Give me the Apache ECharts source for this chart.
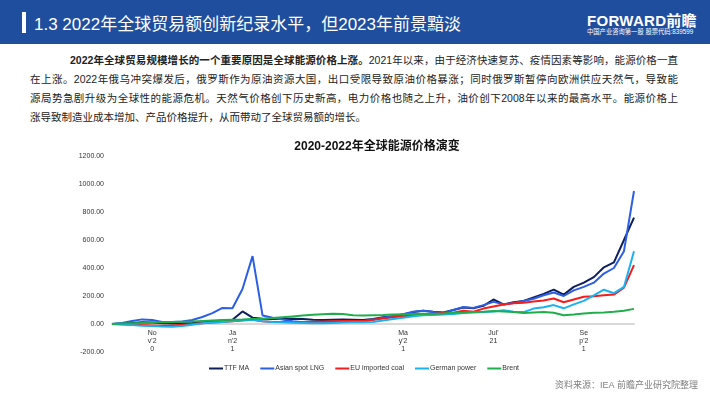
<!DOCTYPE html>
<html><head><meta charset="utf-8">
<script src="https://cdn.jsdelivr.net/npm/echarts@6/dist/echarts.min.js"></script>
<style>
html,body{margin:0;padding:0;width:710px;height:399px;overflow:hidden;background:#fff;font-family:"Liberation Sans","Noto Sans CJK SC",sans-serif;}
.abs{position:absolute;white-space:nowrap;}
.ln{position:absolute;font-size:10.5px;color:#222;text-align:justify;text-align-last:justify;white-space:nowrap;line-height:14px;}
</style></head>
<body>
<div class="abs" style="left:0;top:0;width:710px;height:44px;background:#1f4e9e"></div>
<div class="abs" style="left:22px;top:12px;width:4px;height:21px;background:#fff"></div>
<div class="abs" style="left:34px;top:10px;font-size:17px;color:#fff;font-family:'Liberation Sans','Noto Sans CJK SC';">1.3 2022年全球贸易额创新纪录水平，但2023年前景黯淡</div>
<div class="abs" style="left:587px;top:9px;font-size:15px;font-weight:bold;color:#fff;letter-spacing:0.3px">FORWARD前瞻</div>
<div class="abs" style="left:587px;top:27px;font-size:6.3px;color:#fff">中国产业咨询第一股 股票代码:839599</div>
<div class="ln" style="left:70px;top:53px;width:608px"><b>2022年全球贸易规模增长的一个重要原因是全球能源价格上涨。</b>2021年以来，由于经济快速复苏、疫情因素等影响，能源价格一直</div>
<div class="ln" style="left:30px;top:72px;width:648px">在上涨。2022年俄乌冲突爆发后，俄罗斯作为原油资源大国，出口受限导致原油价格暴涨；同时俄罗斯暂停向欧洲供应天然气，导致能</div>
<div class="ln" style="left:30px;top:91px;width:648px">源局势急剧升级为全球性的能源危机。天然气价格创下历史新高，电力价格也随之上升，油价创下2008年以来的最高水平。能源价格上</div>
<div class="ln" style="left:30px;top:110px;text-align-last:left">涨导致制造业成本增加、产品价格提升，从而带动了全球贸易额的增长。</div>
<div id="chart" style="position:absolute;left:0;top:0;width:710px;height:399px"></div>
<script>
var categories = ["2020-10-08","2020-10-15","2020-10-22","2020-10-29","2020-11-05","2020-11-12","2020-11-19","2020-11-26","2020-12-03","2020-12-10","2020-12-17","2020-12-24","2020-12-31","2021-01-07","2021-01-14","2021-01-21","2021-01-28","2021-02-04","2021-02-11","2021-02-18","2021-02-25","2021-03-04","2021-03-11","2021-03-18","2021-03-25","2021-04-01","2021-04-08","2021-04-15","2021-04-22","2021-04-29","2021-05-06","2021-05-13","2021-05-20","2021-05-27","2021-06-03","2021-06-10","2021-06-17","2021-06-24","2021-07-01","2021-07-08","2021-07-15","2021-07-22","2021-07-29","2021-08-05","2021-08-12","2021-08-19","2021-08-26","2021-09-02","2021-09-09","2021-09-16","2021-09-23","2021-09-30","2021-10-07"];
var tickIndex = [4, 12, 29, 38, 47];
var tickLabels = ["No\nv'2\n0", "Ja\nn'2\n1", "Ma\ny'2\n1", "Jul'\n21", "Se\np'2\n1"];
var ttfMA = [0,3,8,12,10,5,3,5,8,12,18,25,30,90,45,38,35,36,38,35,30,28,30,32,30,28,35,48,55,68,85,95,88,82,100,118,112,130,175,140,155,165,190,215,245,210,265,295,335,405,440,600,760];
var asianLNG = [0,8,22,33,28,15,14,18,28,50,78,115,112,250,485,60,45,32,20,12,10,12,15,18,20,20,30,45,55,70,88,95,85,78,100,122,115,135,158,140,150,165,180,205,225,200,240,265,295,360,400,520,950];
var euCoal = [0,-2,-5,-8,-10,-12,-10,-5,0,5,10,15,20,25,30,20,15,15,12,12,15,18,20,22,22,22,30,40,48,55,62,68,72,78,80,95,88,110,125,140,148,152,160,168,182,155,175,195,198,205,210,260,420];
var germanPower = [0,-3,-8,-12,-15,-18,-20,-15,-5,5,10,15,20,28,30,20,15,12,10,8,5,5,8,10,12,12,15,25,35,45,55,62,65,68,72,78,82,85,90,98,88,85,110,120,135,112,140,165,205,245,220,265,520];
var brent = [0,3,6,8,10,12,14,16,18,22,25,28,30,32,35,38,42,48,54,60,66,70,73,72,62,60,62,64,68,70,72,73,72,75,80,82,85,88,92,90,85,78,82,85,80,62,68,75,80,82,88,95,108];
var yTicks = {min: -200, max: 1200, step: 200};

var names = ["TTF MA", "Asian spot LNG", "EU imported coal", "German power", "Brent"];
var colors = ["#0e1f5b", "#2c5fe6", "#f41c1c", "#1ab2ef", "#1fae4b"];
var datas = [ttfMA, asianLNG, euCoal, germanPower, brent];

var chart = echarts.init(document.getElementById('chart'), null, {renderer: 'canvas'});
var series = names.map(function (n, k) {
  return {name: n, type: 'line', data: datas[k], showSymbol: false, symbol: 'none',
    lineStyle: {width: 2, color: colors[k]}, itemStyle: {color: colors[k]}, z: 2 + k};
});
chart.setOption({
  backgroundColor: 'transparent',
  animation: false,
  title: {text: '2020-2022年全球能源价格演变', left: 372, top: 136, textAlign: 'center',
    textStyle: {fontSize: 12, fontWeight: 'bold', color: '#111', fontFamily: 'Liberation Sans, Noto Sans CJK SC'}},
  grid: {left: 112, top: 156, width: 522, height: 196, containLabel: false},
  legend: {left: 209, top: 365, itemWidth: 14, itemHeight: 2, itemGap: 11, icon: 'rect', padding: 0,
    textStyle: {fontSize: 7, color: '#333', fontFamily: 'Liberation Sans', padding: [0, 0, 0, -4]},
    data: names},
  xAxis: {type: 'category', data: categories, boundaryGap: false, offset: -28,
    axisLine: {onZero: false, lineStyle: {color: '#d9d9d9', width: 2}},
    axisTick: {show: false},
    axisLabel: {interval: function (i) { return tickIndex.indexOf(i) >= 0; },
      formatter: function (v, i) { var p = tickIndex.indexOf(i); return p >= 0 ? tickLabels[p] : ''; },
      fontSize: 7, color: '#333', lineHeight: 8, margin: 5, fontFamily: 'Liberation Sans'}},
  yAxis: {type: 'value', min: yTicks.min, max: yTicks.max, interval: yTicks.step,
    axisLine: {show: false}, axisTick: {show: false}, splitLine: {show: false},
    axisLabel: {formatter: function (v) { return v.toFixed(2); }, fontSize: 7, color: '#333', margin: 8, fontFamily: 'Liberation Sans'}},
  graphic: [{type: 'text', right: 12, top: 381, style: {text: '资料来源：IEA 前瞻产业研究院整理', fontSize: 9, fill: '#808080', fontFamily: 'Liberation Sans, Noto Sans CJK SC'}}],
  series: series
});
</script>
</body></html>
